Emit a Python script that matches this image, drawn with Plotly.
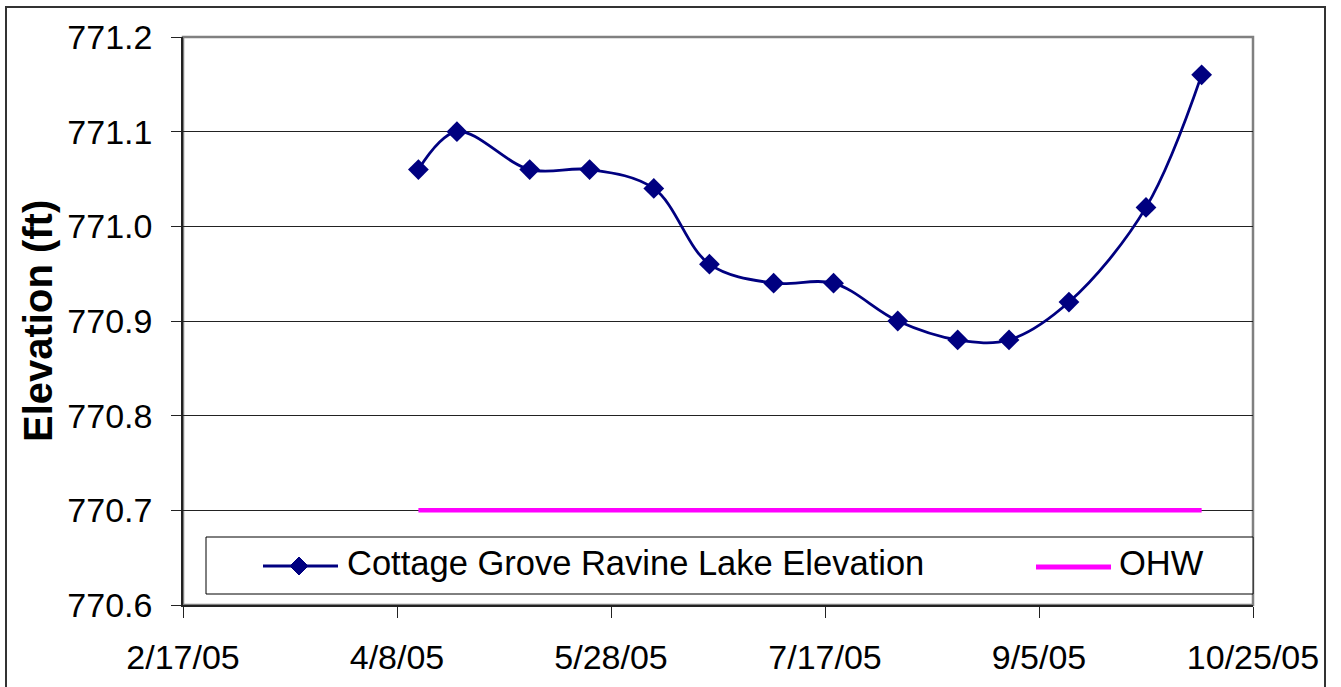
import plotly.graph_objects as go

# Lake level readings
dates = ["2005-04-13", "2005-04-22", "2005-05-09", "2005-05-23", "2005-06-07",
         "2005-06-20", "2005-07-05", "2005-07-19", "2005-08-03", "2005-08-17",
         "2005-08-29", "2005-09-12", "2005-09-30", "2005-10-13"]
elevation = [771.06, 771.10, 771.06, 771.06, 771.04, 770.96, 770.94, 770.94,
             770.90, 770.88, 770.88, 770.92, 771.02, 771.16]

# Ordinary high water level
ohw_dates = ["2005-04-13", "2005-10-13"]
ohw_level = [770.70, 770.70]

series_name = "Cottage Grove Ravine Lake Elevation"
ohw_name = "OHW"

W, H = 1341, 687
ML, MR, MT, MB = 183, 88, 37, 82
PW, PH = W - ML - MR, H - MT - MB


def px(x):
    return (x - ML) / PW


def py(y):
    return (H - MB - y) / PH


FONT = "Arial, Liberation Sans, sans-serif"
NAVY = "#000080"
MAGENTA = "#FF00FF"

fig = go.Figure()
fig.add_trace(go.Scatter(
    x=dates, y=elevation, mode="lines+markers", name=series_name,
    line=dict(color=NAVY, width=2.8, shape="spline", smoothing=1.0),
    marker=dict(symbol="diamond", size=16, color=NAVY),
    showlegend=False,
))
fig.add_trace(go.Scatter(
    x=ohw_dates, y=ohw_level, mode="lines", name=ohw_name,
    line=dict(color=MAGENTA, width=4.5),
    showlegend=False,
))

shapes = [
    # outer frame
    dict(type="rect", xref="paper", yref="paper",
         x0=px(6), x1=px(1325), y0=py(695), y1=py(7),
         line=dict(color="#333333", width=2), layer="below"),
    # plot area frame
    dict(type="rect", xref="paper", yref="paper", x0=0, x1=1, y0=0, y1=1,
         line=dict(color="#808080", width=2.5), layer="below"),
    # legend box
    dict(type="rect", xref="paper", yref="paper",
         x0=px(206), x1=px(1253), y0=py(594), y1=py(537),
         line=dict(color="#000000", width=1), fillcolor="white", layer="above"),
    # legend sample: elevation series
    dict(type="line", xref="paper", yref="paper",
         x0=px(263), x1=px(338), y0=py(566), y1=py(566),
         line=dict(color=NAVY, width=2.8), layer="above"),
    dict(type="path", xref="paper", yref="paper",
         xsizemode="pixel", ysizemode="pixel",
         xanchor=px(299), yanchor=py(566),
         path="M -9,0 L 0,9 L 9,0 L 0,-9 Z",
         fillcolor=NAVY, line=dict(color=NAVY, width=1), layer="above"),
    # legend sample: OHW
    dict(type="line", xref="paper", yref="paper",
         x0=px(1036), x1=px(1111), y0=py(567), y1=py(567),
         line=dict(color=MAGENTA, width=5), layer="above"),
]

annotations = [
    dict(text="<b>Elevation (ft)</b>", xref="paper", yref="paper",
         x=px(38), y=py(321), textangle=-90, showarrow=False,
         font=dict(family=FONT, size=40, color="black"),
         xanchor="center", yanchor="middle"),
    dict(text=series_name, xref="paper", yref="paper",
         x=px(345), y=py(563), showarrow=False, xanchor="left", yanchor="middle",
         font=dict(family=FONT, size=34.5, color="black")),
    dict(text=ohw_name, xref="paper", yref="paper",
         x=px(1117), y=py(563), showarrow=False, xanchor="left", yanchor="middle",
         font=dict(family=FONT, size=34.5, color="black")),
]

fig.update_layout(
    width=W, height=H,
    margin=dict(l=ML, r=MR, t=MT, b=MB, autoexpand=False),
    paper_bgcolor="white", plot_bgcolor="white",
    font=dict(family=FONT, size=34, color="black"),
    shapes=shapes, annotations=annotations,
    showlegend=False,
)
fig.update_xaxes(
    type="date", range=["2005-02-17", "2005-10-25"],
    tick0="2005-02-17", dtick=50 * 86400000, tickformat="%-m/%-d/%y",
    showgrid=False, zeroline=False, automargin=False,
    showline=True, linecolor="#222222", linewidth=1.5,
    ticks="outside", ticklen=11, tickcolor="#222222", tickwidth=1,
    ticklabelstandoff=10,
)
fig.update_yaxes(
    range=[770.6, 771.2], dtick=0.1, tickformat=".1f",
    showgrid=True, gridcolor="#222222", gridwidth=1, zeroline=False,
    automargin=False,
    showline=True, linecolor="#222222", linewidth=1.5,
    ticks="outside", ticklen=10, tickcolor="#222222", tickwidth=1,
    ticklabelstandoff=12,
)

fig.write_html("out.html")
